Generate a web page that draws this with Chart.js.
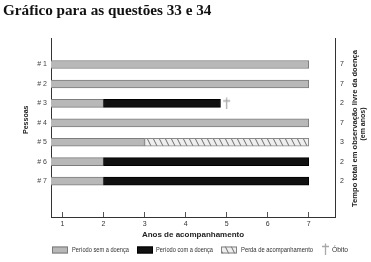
<!DOCTYPE html>
<html><head><meta charset="utf-8">
<script src="https://cdn.jsdelivr.net/npm/chart.js@4"></script>
<style>html,body{margin:0;padding:0;background:#fff}canvas{display:block}</style>
</head><body>
<canvas id="c" width="371" height="262"></canvas>
<script>
const people = ['# 1','# 2','# 3','# 4','# 5','# 6','# 7'];
const rowIndex = [1,2,3,4,5,6,7];
const yearTicks = [1,2,3,4,5,6,7];
const freePeriod = [[0,7],[0,7],[0,2],[0,7],[0,3],[0,2],[0,2]];
const diseasePeriod = [null,null,[2,4.85],null,null,[2,7],[2,7]];
const lossPeriod = [null,null,null,null,[3,7],null,null];
const deathYear = [null,null,5,null,null,null,null];
const totalFree = [7,7,2,7,3,2,2];
const legendLabels = ['Período sem a doença','Período com a doença','Perda de acompanhamento','Óbito'];
const rightTitle = ['Tempo total em observação livre da doença','(em anos)'];

const canvas = document.getElementById('c');
const ctx = canvas.getContext('2d');

function makeHatch(){
  const c=document.createElement('canvas');c.width=6;c.height=12;
  const g=c.getContext('2d');
  g.fillStyle='#eeeeee';g.fillRect(0,0,6,12);
  g.strokeStyle='#6e6e6e';g.lineWidth=1;g.beginPath();
  for(const dx of [-6,0,6]){g.moveTo(dx,0);g.lineTo(dx+6,12);}
  g.stroke();
  return ctx.createPattern(c,'repeat');
}
const hatch = makeHatch();

function makeDagger(){
  const c=document.createElement('canvas');c.width=9;c.height=12;
  const g=c.getContext('2d');
  g.strokeStyle='#a8a8a8';g.lineWidth=1.3;g.beginPath();
  g.moveTo(4.5,0.5);g.lineTo(4.5,12);
  g.moveTo(1,3.5);g.lineTo(8,3.5);
  g.stroke();
  return c;
}
const dagger = makeDagger();

const toRows = arr => arr.map((v,i)=> v===null?null:{x:v,y:rowIndex[i]}).filter(d=>d);

function fitText(c, text, x, y, w, font, color, rot){
  c.save(); c.font=font;
  const s = w / c.measureText(text).width;
  c.translate(x,y); if(rot) c.rotate(rot); c.scale(s,1);
  c.fillStyle=color; c.textBaseline='middle'; c.textAlign=rot?'center':'left';
  c.fillText(text,0,0); c.restore();
}

const extras = {
  id:'extras',
  afterDraw(chart){
    const c=chart.ctx;
    fitText(c, rightTitle[0], 355, 128.5, 157, 'bold 8px "Liberation Sans"', '#222', -Math.PI/2);
    fitText(c, rightTitle[1], 362.5, 124, 33, 'bold 8px "Liberation Sans"', '#222', -Math.PI/2);
    const ly=250;
    const boxes=[{x:52,f:'#b8b8b8',s:'#7a7a7a'},{x:137,f:'#111',s:'#000'},{x:221,f:hatch,s:'#808080'}];
    boxes.forEach(b=>{c.save();c.fillStyle=b.f;c.fillRect(b.x,ly-3.5,16,7);c.strokeStyle=b.s;c.lineWidth=1;c.strokeRect(b.x+0.5,ly-3,15,6);c.restore();});
    const font='7.5px "Liberation Sans"';
    fitText(c, legendLabels[0], 72, ly, 57, font, '#333');
    fitText(c, legendLabels[1], 156, ly, 57, font, '#333');
    fitText(c, legendLabels[2], 241, ly, 72, font, '#333');
    c.drawImage(dagger, 321, ly-7);
    fitText(c, legendLabels[3], 332, ly, 16, font, '#333');
  }
};

const yMin=0.294, yMax=8.19;
new Chart(ctx,{
  type:'bar',
  data:{datasets:[
    {label:legendLabels[0],data:toRows(freePeriod),backgroundColor:'#b8b8b8',borderColor:'#7d7d7d',borderWidth:1,borderSkipped:false,barThickness:8,grouped:false,order:3},
    {label:legendLabels[1],data:toRows(diseasePeriod),backgroundColor:'#111111',borderColor:'#000',borderWidth:1,borderSkipped:false,barThickness:8,grouped:false,order:2},
    {label:legendLabels[2],data:toRows(lossPeriod),backgroundColor:hatch,borderColor:'#888',borderWidth:1,borderSkipped:false,barThickness:8,grouped:false,order:1},
    {type:'scatter',label:legendLabels[3],data:toRows(deathYear),pointStyle:dagger,pointRadius:6,clip:false,order:0}
  ]},
  options:{
    responsive:false,animation:false,devicePixelRatio:1,indexAxis:'y',
    layout:{padding:{left:3,right:0,top:0,bottom:21}},
    plugins:{
      legend:{display:false},tooltip:{enabled:false},
      title:{display:true,text:'Gráfico para as questões 33 e 34',align:'start',color:'#111',
        font:{family:'"Liberation Serif"',size:15.2,weight:'bold'},padding:{top:2,bottom:17.8}}
    },
    scales:{
      x:{type:'linear',position:'bottom',min:0.72,max:7.64,
        afterBuildTicks:s=>{s.ticks=yearTicks.map(v=>({value:v}));},
        afterFit:s=>{s.height=24;},
        grid:{display:true,drawOnChartArea:false,drawTicks:true,tickLength:-5,color:'#555',lineWidth:1},
        border:{display:true,color:'#333',width:1},
        ticks:{font:{size:7,family:'"Liberation Sans"'},color:'#333',padding:8,maxRotation:0},
        title:{display:true,text:'Anos de acompanhamento',color:'#222',font:{size:8,weight:'bold',family:'"Liberation Sans"'},padding:{top:0,bottom:1}}
      },
      y:{type:'linear',position:'left',reverse:true,min:yMin,max:yMax,
        afterBuildTicks:s=>{s.ticks=rowIndex.map(v=>({value:v}));},
        afterFit:s=>{s.width=48;},
        grid:{display:false,drawTicks:false},border:{display:true,color:'#333',width:1},
        ticks:{callback:v=>people[v-1]??'',font:{size:7,family:'"Liberation Sans"'},color:'#444',padding:4},
        title:{display:true,text:'        Pessoas',color:'#222',font:{size:7,weight:'bold',family:'"Liberation Sans"'},padding:{top:18.8,bottom:0}}
      },
      y2:{type:'linear',position:'right',reverse:true,min:yMin,max:yMax,
        afterBuildTicks:s=>{s.ticks=rowIndex.map(v=>({value:v}));},
        afterFit:s=>{s.width=36;},
        grid:{display:false,drawTicks:false},border:{display:true,color:'#333',width:1},
        ticks:{callback:v=>totalFree[v-1]??'',font:{size:7,family:'"Liberation Sans"'},color:'#333',padding:5}
      }
    }
  },
  plugins:[extras]
});
</script>
</body></html>
